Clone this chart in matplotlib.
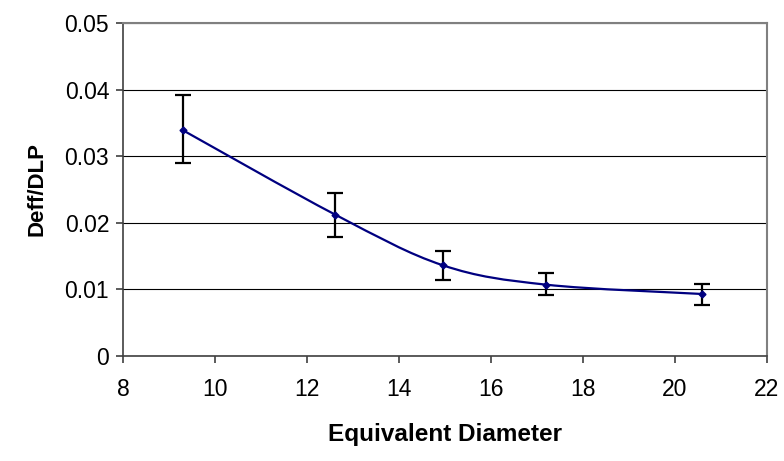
import matplotlib.pyplot as plt
from matplotlib.path import Path
from matplotlib.patches import PathPatch

# data
diameter = [9.3, 12.62, 14.96, 17.2, 20.59]
deff_dlp = [0.0339, 0.0212, 0.0136, 0.0107, 0.0093]
err_low = [0.0049, 0.0033, 0.0022, 0.0015, 0.0016]
err_high = [0.0053, 0.0033, 0.0022, 0.0018, 0.0015]

x_ticks = [8, 10, 12, 14, 16, 18, 20, 22]
y_ticks = [0, 0.01, 0.02, 0.03, 0.04, 0.05]
y_tick_labels = ["0", "0.01", "0.02", "0.03", "0.04", "0.05"]

NAVY = "#000080"


def smooth_path(xs, ys):
    # Excel-style smoothed line: cubic Bezier through every point
    pts = list(zip(xs, ys))
    n = len(pts)
    verts = [pts[0]]
    codes = [Path.MOVETO]
    for i in range(n - 1):
        p0 = pts[max(i - 1, 0)]
        p1 = pts[i]
        p2 = pts[i + 1]
        p3 = pts[min(i + 2, n - 1)]
        c1 = (p1[0] + (p2[0] - p0[0]) / 6, p1[1] + (p2[1] - p0[1]) / 6)
        c2 = (p2[0] - (p3[0] - p1[0]) / 6, p2[1] - (p3[1] - p1[1]) / 6)
        verts += [c1, c2, p2]
        codes += [Path.CURVE4] * 3
    return Path(verts, codes)


plt.rcParams['font.family'] = ['Liberation Sans', 'DejaVu Sans']

fig = plt.figure(figsize=(7.84, 4.61), dpi=100)
ax = fig.add_axes([0.157, 0.228, 0.821, 0.722])

ax.add_patch(PathPatch(smooth_path(diameter, deff_dlp), fill=False,
                       edgecolor=NAVY, linewidth=1.6, zorder=3))
ax.errorbar(diameter, deff_dlp, yerr=[err_low, err_high], fmt='none',
            ecolor='black', elinewidth=1.6, capsize=6, capthick=1.6, zorder=4)
ax.plot(diameter, deff_dlp, linestyle='none', marker='D', markersize=3.5,
        color=NAVY, zorder=5)

ax.set_xlim(8, 22)
ax.set_ylim(0, 0.05)
ax.set_xticks(x_ticks)
ax.set_yticks(y_ticks)
ax.set_yticklabels(y_tick_labels)

ax.grid(True, axis='y', color='black', linewidth=0.8)
ax.set_axisbelow(True)

for side in ['top', 'right']:
    ax.spines[side].set_color('#808080')
    ax.spines[side].set_linewidth(1.5)
for side in ['left', 'bottom']:
    ax.spines[side].set_color('#404040')
    ax.spines[side].set_linewidth(1.2)

ax.tick_params(axis='both', direction='out', length=5, width=1.2,
               color='#404040', labelsize=16.5, pad=5)
ax.tick_params(axis='x', pad=11)

ax.set_xlabel("Equivalent Diameter", fontsize=17.5, fontweight='bold', labelpad=16)
ax.set_ylabel("Deff/DLP", fontsize=16, fontweight='bold', labelpad=12)

fig.savefig("out.png", dpi=100)
